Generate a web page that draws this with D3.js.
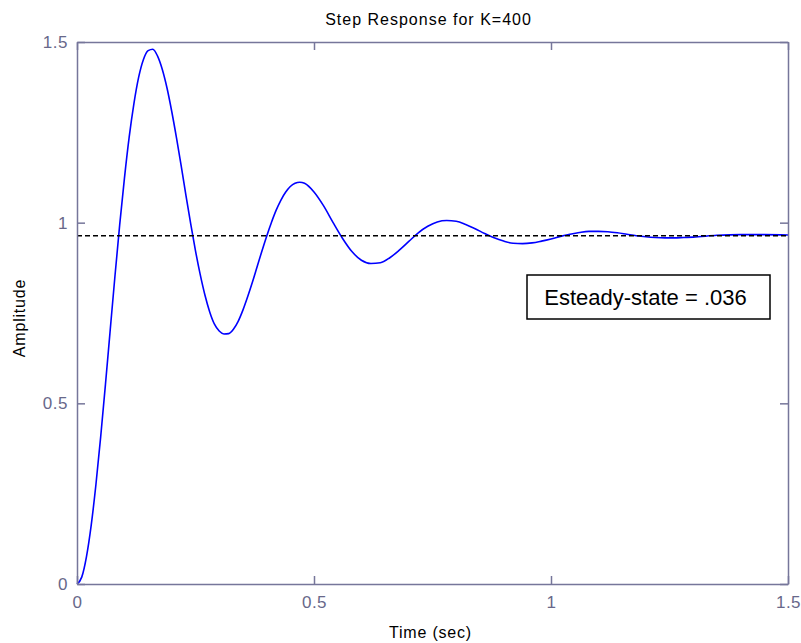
<!DOCTYPE html>
<html>
<head>
<meta charset="utf-8">
<script src="https://cdn.jsdelivr.net/npm/d3@7"></script>
<style>
  html, body { margin: 0; padding: 0; background: #ffffff; }
  svg { display: block; }
  text { font-family: Arial, "Liberation Sans", Helvetica, sans-serif; }
</style>
</head>
<body>
<svg id="chart" width="801" height="643"></svg>
<script>
// ---- data ----
const titleText = "Step Response for K=400";
const xLabel = "Time (sec)";
const yLabel = "Amplitude";
const legendText = "Esteady-state = .036";

const xTicks = [0, 0.5, 1, 1.5];
const xTickLabels = ["0", "0.5", "1", "1.5"];
const yTicks = [0, 0.5, 1, 1.5];
const yTickLabels = ["0", "0.5", "1", "1.5"];

const steadyState = 0.964;

const time = [
  0.00, 0.01, 0.02, 0.03, 0.04, 0.05, 0.06, 0.07, 0.08, 0.09,
  0.10, 0.11, 0.12, 0.13, 0.14, 0.15, 0.16, 0.17, 0.18, 0.19,
  0.20, 0.21, 0.22, 0.23, 0.24, 0.25, 0.26, 0.27, 0.28, 0.29,
  0.30, 0.31, 0.32, 0.33, 0.34, 0.35, 0.36, 0.37, 0.38, 0.39,
  0.40, 0.41, 0.42, 0.43, 0.44, 0.45, 0.46, 0.47, 0.48, 0.50,
  0.52, 0.54, 0.56, 0.58, 0.60, 0.62, 0.64, 0.66, 0.68, 0.70,
  0.72, 0.74, 0.76, 0.78, 0.80, 0.82, 0.84, 0.86, 0.88, 0.90,
  0.92, 0.94, 0.96, 0.98, 1.00, 1.02, 1.04, 1.06, 1.08, 1.10,
  1.12, 1.14, 1.16, 1.18, 1.20, 1.22, 1.24, 1.26, 1.28, 1.30,
  1.35, 1.40, 1.45, 1.50
];
const amplitude = [
  0.000, 0.019, 0.076, 0.163, 0.276, 0.408, 0.552, 0.702, 0.851, 0.993,
  1.122, 1.236, 1.329, 1.402, 1.451, 1.476, 1.480, 1.461, 1.424, 1.372,
  1.307, 1.234, 1.156, 1.074, 0.996, 0.922, 0.856, 0.799, 0.753, 0.719,
  0.700, 0.692, 0.693, 0.705, 0.727, 0.758, 0.795, 0.835, 0.878, 0.921,
  0.962, 1.000, 1.034, 1.062, 1.084, 1.100, 1.109, 1.112, 1.109, 1.085,
  1.047, 1.001, 0.957, 0.920, 0.896, 0.887, 0.889, 0.903, 0.924, 0.948,
  0.972, 0.990, 1.002, 1.006, 1.004, 0.995, 0.983, 0.970, 0.958, 0.949,
  0.943, 0.942, 0.944, 0.949, 0.955, 0.962, 0.968, 0.973, 0.976, 0.976,
  0.975, 0.972, 0.968, 0.964, 0.961, 0.959, 0.958, 0.958, 0.959, 0.960,
  0.965, 0.967, 0.967, 0.966
];

// ---- layout ----
const svg = d3.select("#chart");
const mLeft = 77, mRight = 788, mTop = 42, mBottom = 584;
const axisColor = "#76769a";
const tickTextColor = "#68688a";
const tickLen = 8;

const x = d3.scaleLinear().domain([0, 1.5]).range([mLeft, mRight]);
const y = d3.scaleLinear().domain([0, 1.5]).range([mBottom, mTop]);

svg.append("rect").attr("width", 801).attr("height", 643).attr("fill", "#ffffff");

// data line
const line = d3.line()
  .x((d, i) => x(time[i]))
  .y(d => y(d))
  .curve(d3.curveMonotoneX);

svg.append("path")
  .datum(amplitude)
  .attr("d", line)
  .attr("fill", "none")
  .attr("stroke", "#0000ff")
  .attr("stroke-width", 1.6);

// steady-state dashed line
svg.append("line")
  .attr("x1", x(0)).attr("x2", x(1.5))
  .attr("y1", y(steadyState)).attr("y2", y(steadyState))
  .attr("stroke", "#000000")
  .attr("stroke-width", 1.5)
  .attr("stroke-dasharray", "5,3");

// axes (box with inward ticks on all sides)
const axBottom = d3.axisBottom(x).tickValues(xTicks).tickSize(-tickLen).tickSizeOuter(0).tickFormat((d, i) => xTickLabels[i]).tickPadding(12);
const axTop = d3.axisTop(x).tickValues(xTicks).tickSize(-tickLen).tickSizeOuter(0).tickFormat("");
const axLeft = d3.axisLeft(y).tickValues(yTicks).tickSize(-tickLen).tickSizeOuter(0).tickFormat((d, i) => yTickLabels[i]).tickPadding(9);
const axRight = d3.axisRight(y).tickValues(yTicks).tickSize(-tickLen).tickSizeOuter(0).tickFormat("");

function styleAxis(g) {
  g.select(".domain").attr("stroke", axisColor).attr("stroke-width", 1.5);
  g.selectAll(".tick line").attr("stroke", axisColor).attr("stroke-width", 1.5);
  g.selectAll(".tick text")
    .attr("fill", tickTextColor)
    .style("font-size", "17px")
    .style("letter-spacing", "0.5px")
    .style("font-family", "Arial, 'Liberation Sans', sans-serif");
}

svg.append("g").attr("transform", `translate(0,${mBottom})`).call(axBottom).call(styleAxis);
svg.append("g").attr("transform", `translate(0,${mTop})`).call(axTop).call(styleAxis);
svg.append("g").attr("transform", `translate(${mLeft},0)`).call(axLeft).call(styleAxis);
svg.append("g").attr("transform", `translate(${mRight},0)`).call(axRight).call(styleAxis);

// title and labels
svg.append("text")
  .attr("x", (mLeft + mRight) / 2 - 4).attr("y", 25)
  .attr("text-anchor", "middle")
  .style("font-size", "16px").style("letter-spacing", "1px")
  .attr("fill", "#000")
  .text(titleText);

svg.append("text")
  .attr("x", (mLeft + mRight) / 2 - 2).attr("y", 638)
  .attr("text-anchor", "middle")
  .style("font-size", "16px").style("letter-spacing", "0.8px")
  .attr("fill", "#000")
  .text(xLabel);

svg.append("text")
  .attr("transform", `translate(25,${(mTop + mBottom) / 2 + 5}) rotate(-90)`)
  .attr("text-anchor", "middle")
  .style("font-size", "16px").style("letter-spacing", "0.8px")
  .attr("fill", "#000")
  .text(yLabel);

// annotation box
const bx = 527, by = 275, bw = 243, bh = 44;
svg.append("rect")
  .attr("x", bx).attr("y", by).attr("width", bw).attr("height", bh)
  .attr("fill", "#ffffff").attr("stroke", "#000").attr("stroke-width", 1.5);
svg.append("text")
  .attr("x", bx + bw / 2 - 3).attr("y", by + 30)
  .attr("text-anchor", "middle")
  .style("font-size", "22px")
  .attr("fill", "#000")
  .text(legendText);
</script>
</body>
</html>
